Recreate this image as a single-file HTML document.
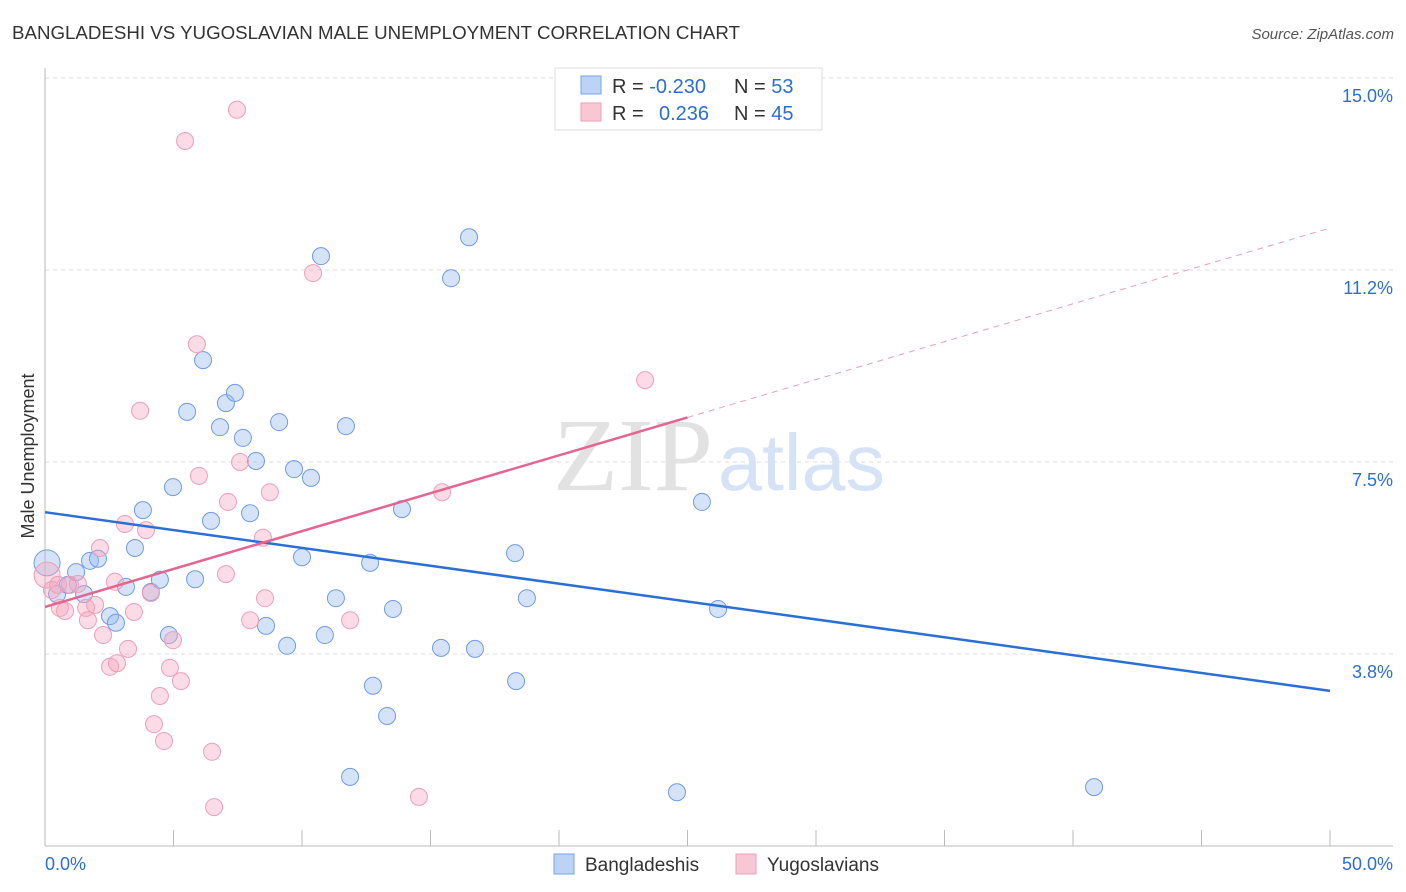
<!DOCTYPE html>
<html><head><meta charset="utf-8"><style>
body{margin:0;background:#fff;font-family:"Liberation Sans",sans-serif;}
svg{display:block}
</style></head><body>
<svg id="chart" width="1406" height="892">
<text x="12" y="39" font-size="18" fill="#333" textLength="728" lengthAdjust="spacingAndGlyphs">BANGLADESHI VS YUGOSLAVIAN MALE UNEMPLOYMENT CORRELATION CHART</text>
<text x="1394" y="39" font-size="15" fill="#555" font-style="italic" text-anchor="end">Source: ZipAtlas.com</text>
<g id="grid"></g>
<text x="553" y="490" font-size="104" fill="#e2e2e2" font-family="Liberation Serif,serif" textLength="160" lengthAdjust="spacingAndGlyphs">ZIP</text>
<text x="718" y="490" font-size="80" fill="#d6e3f6" textLength="167" lengthAdjust="spacingAndGlyphs">atlas</text>
<g id="pts"></g>
<g id="lines"></g>
<text transform="translate(34,456) rotate(-90)" font-size="18" fill="#333" text-anchor="middle">Male Unemployment</text>
<g>
<rect x="555" y="68" width="267" height="62" fill="#fff" stroke="#ddd"/>
<rect x="581" y="76" width="20" height="18" fill="#bcd3f5" stroke="#7aa2e6"/>
<rect x="581" y="103" width="20" height="18" fill="#f9c6d6" stroke="#ee9fb9"/>
<text x="612" y="93" font-size="20" fill="#333">R = <tspan fill="#2a6fd6">-0.230</tspan><tspan x="734">N = </tspan><tspan fill="#2a6fd6">53</tspan></text>
<text x="612" y="120" font-size="20" fill="#333">R = <tspan x="659" fill="#2a6fd6">0.236</tspan><tspan x="734">N = </tspan><tspan fill="#2a6fd6">45</tspan></text>
</g>
<g>
<rect x="554" y="854" width="20" height="20" fill="#bcd3f5" stroke="#7aa2e6"/>
<text x="585" y="871" font-size="19" fill="#333">Bangladeshis</text>
<rect x="736" y="854" width="20" height="20" fill="#f9c6d6" stroke="#ee9fb9"/>
<text x="767" y="871" font-size="19" fill="#333">Yugoslavians</text>
</g>
</svg>
<script>
const xTicks=[0,50];
const yTicks=[3.8,7.5,11.2,15.0];
const blueX=[0.08,0.47,0.89,1.21,1.52,1.75,2.06,2.53,2.76,3.15,3.50,3.81,4.12,4.47,4.82,4.98,5.53,5.84,6.15,6.46,6.81,7.04,7.39,7.70,7.98,8.21,8.60,9.11,9.42,9.69,10.00,10.35,10.74,10.89,11.32,11.71,11.87,12.65,12.76,13.31,13.54,13.89,15.41,15.80,16.50,16.73,18.29,18.33,18.75,24.59,25.56,26.19,40.82];
const blueY=[5.53,4.92,5.10,5.35,4.92,5.57,5.61,4.49,4.36,5.06,5.82,6.56,4.96,5.20,4.12,7.01,8.48,5.21,9.49,6.35,8.18,8.65,8.85,7.97,6.50,7.52,4.30,8.28,3.91,7.36,5.64,7.19,11.52,4.12,4.84,8.20,1.35,5.53,3.13,2.54,4.63,6.58,3.87,11.09,11.89,3.85,5.72,3.22,4.84,1.05,6.72,4.63,1.15];
const pinkX=[0.08,0.27,0.51,0.58,0.78,0.97,1.28,1.60,1.67,1.95,2.14,2.26,2.53,2.72,2.80,3.11,3.23,3.46,3.70,3.93,4.12,4.24,4.47,4.63,4.86,4.98,5.29,5.45,5.91,5.99,6.50,6.58,7.04,7.12,7.47,7.59,7.98,8.48,8.56,8.75,10.43,11.87,14.55,15.45,23.35];
const pinkY=[5.29,5.00,5.10,4.65,4.59,5.10,5.12,4.65,4.41,4.71,5.82,4.12,3.50,5.16,3.57,6.29,3.85,4.57,8.50,6.17,4.94,2.38,2.93,2.05,3.48,4.02,3.22,13.77,9.80,7.23,1.84,0.76,5.31,6.72,14.38,7.50,4.41,6.02,4.84,6.91,11.19,4.41,0.96,6.91,9.10];
const blueTrend=[6.52,3.03];
const pinkTrend=[4.67,12.07];
const X=v=>45+v*25.7, Y=v=>846-v*51.2;
const NS="http://www.w3.org/2000/svg";
function mk(p,t,a){const e=document.createElementNS(NS,t);for(const k in a)e.setAttribute(k,a[k]);p.appendChild(e);return e;}
const grid=document.getElementById('grid');
yTicks.forEach(t=>{const yy=Y(t===3.8?3.75:t===11.2?11.25:t);
const l=mk(grid,'line',{x1:45,x2:1393,y1:yy,y2:yy,stroke:'#ddd','stroke-dasharray':'4,4'});


const tx=mk(grid,'text',{x:1393,y:yy+24,'font-size':18,fill:'#2a6fd6','text-anchor':'end'});tx.textContent=t.toFixed(1)+'%';

});
mk(grid,'line',{x1:45,x2:45,y1:68,y2:846,stroke:'#bbb'});
mk(grid,'line',{x1:45,x2:1393,y1:846,y2:846,stroke:'#bbb'});
for(let i=0;i<=10;i++){mk(grid,'line',{x1:X(i*5),x2:X(i*5),y1:830,y2:846,stroke:'#bbb'});}
xTicks.forEach((t,i)=>{const tx=mk(grid,'text',{x:i?1393:45,y:870,'font-size':18,fill:'#2a6fd6','text-anchor':i?'end':'start'});tx.textContent=t.toFixed(1)+'%';

});
const pts=document.getElementById('pts');
function dots(xs,ys,fill,stroke,name){xs.forEach((x,i)=>{const c=mk(pts,'circle',{cx:X(x),cy:Y(ys[i]),r:i===0?13:8.5,fill:fill,stroke:stroke,'stroke-width':1});

});}
dots(blueX,blueY,'rgba(150,185,240,0.4)','#6f9be6','bangladeshi-point');
dots(pinkX,pinkY,'rgba(245,165,190,0.4)','#ee9fb9','yugoslavian-point');
const ln=document.getElementById('lines');
const b=mk(ln,'line',{x1:X(0),y1:Y(blueTrend[0]),x2:X(50),y2:Y(blueTrend[1]),stroke:'#2a6fd6','stroke-width':2.5});


const pm=(pinkTrend[0]+pinkTrend[1])/2;
const p1=mk(ln,'line',{x1:X(0),y1:Y(pinkTrend[0]),x2:X(25),y2:Y(pm),stroke:'#e56590','stroke-width':2.5});


const p2=mk(ln,'line',{x1:X(25),y1:Y(pm),x2:X(50),y2:Y(pinkTrend[1]),stroke:'#e9a0b8','stroke-width':1,'stroke-dasharray':'6,5'});


</script>
</body></html>
